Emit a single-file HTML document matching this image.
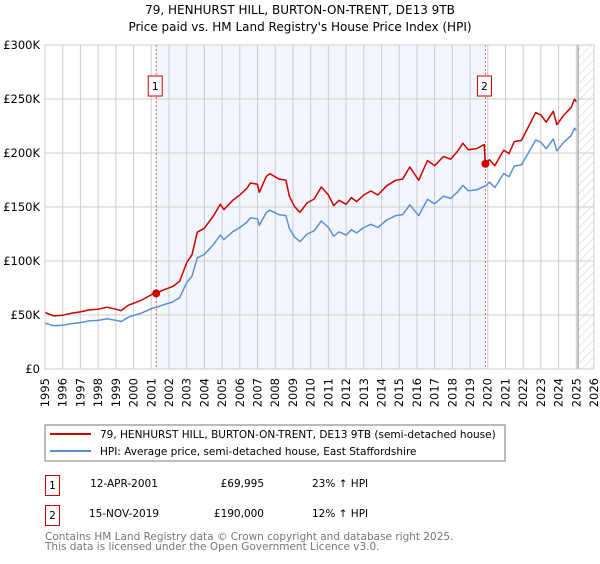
<!DOCTYPE html>
<html><head><meta charset="utf-8"><style>
body{margin:0;background:#fff;font-family:"DejaVu Sans","Liberation Sans",sans-serif;}
svg text{font-family:"DejaVu Sans","Liberation Sans",sans-serif;}
</style></head><body>
<svg id="c" width="600" height="560" xmlns="http://www.w3.org/2000/svg">
<defs><pattern id="hatch" width="6" height="6" patternUnits="userSpaceOnUse" patternTransform="rotate(45)"><line x1="0" y1="0" x2="0" y2="6" stroke="#ccc" stroke-width="1"/></pattern></defs>
<text x="300" y="14" text-anchor="middle" font-size="12">79, HENHURST HILL, BURTON-ON-TRENT, DE13 9TB</text>
<text x="300" y="31" text-anchor="middle" font-size="12">Price paid vs. HM Land Registry's House Price Index (HPI)</text>
<g id="plot"></g>
<rect x="45" y="425" width="460" height="36" fill="#fff" stroke="#777"/>
<line x1="50" y1="434" x2="91" y2="434" stroke="#cc0000" stroke-width="2"/>
<text x="100" y="438" font-size="10.5">79, HENHURST HILL, BURTON-ON-TRENT, DE13 9TB (semi-detached house)</text>
<line x1="50" y1="451" x2="91" y2="451" stroke="#5b8fd4" stroke-width="2"/>
<text x="100" y="455" font-size="10.5">HPI: Average price, semi-detached house, East Staffordshire</text>
<rect x="45.5" y="475.5" width="14" height="20" fill="none" stroke="#cc0000"/>
<text x="52.5" y="489" text-anchor="middle" font-size="10.5">1</text>
<text x="124" y="487" text-anchor="middle" font-size="10.5">12-APR-2001</text>
<text x="264" y="487" text-anchor="end" font-size="10.5">£69,995</text>
<text x="312" y="487" font-size="10.5">23% ↑ HPI</text>
<rect x="45.5" y="505.5" width="14" height="20" fill="none" stroke="#cc0000"/>
<text x="52.5" y="519" text-anchor="middle" font-size="10.5">2</text>
<text x="124" y="517" text-anchor="middle" font-size="10.5">15-NOV-2019</text>
<text x="264" y="517" text-anchor="end" font-size="10.5">£190,000</text>
<text x="312" y="517" font-size="10.5">12% ↑ HPI</text>
<text x="45" y="540" font-size="10.5" fill="#777">Contains HM Land Registry data © Crown copyright and database right 2025.</text>
<text x="45" y="550" font-size="10.5" fill="#777">This data is licensed under the Open Government Licence v3.0.</text>
</svg>
<script>
const hpiYears=[1995,1995.5,1996,1996.5,1997,1997.5,1998,1998.5,1999,1999.3,1999.7,2000.4,2001.1,2001.3,2001.6,2002.2,2002.6,2003,2003.3,2003.6,2004,2004.5,2004.9,2005.1,2005.6,2006,2006.4,2006.6,2007,2007.1,2007.5,2007.7,2008.2,2008.6,2008.8,2009.1,2009.4,2009.8,2010.2,2010.6,2011,2011.3,2011.6,2012,2012.3,2012.6,2013,2013.4,2013.8,2014.3,2014.8,2015.2,2015.6,2016.1,2016.6,2017,2017.5,2017.9,2018.3,2018.6,2018.9,2019.4,2019.9,2020.1,2020.4,2020.9,2021.2,2021.5,2021.9,2022.4,2022.7,2023,2023.3,2023.7,2023.9,2024.3,2024.7,2024.9,2025];
const hpiValues=[42.5,40,40.5,42,43,44.5,45,46.5,45,44,48,51.5,56.5,57,59,62,66,80,86,103,106,115,124,120,127,131,136,140,139,133,145,147,143,142,130,122,118,125,128,137,131,123,127,124,129,126,131,134,131,138,142,143,152,142,157,153,160,158,164,170,165,166,170,173,168,181,178,188,189,203,212,210,204,213,202,210,216,223,221];
const priceYears=[1995,1995.5,1996,1996.5,1997,1997.5,1998,1998.5,1999,1999.3,1999.7,2000.4,2001.1,2001.28,2001.6,2002.2,2002.6,2003,2003.3,2003.6,2004,2004.5,2004.9,2005.1,2005.6,2006,2006.4,2006.6,2007,2007.1,2007.5,2007.7,2008.2,2008.6,2008.8,2009.1,2009.4,2009.8,2010.2,2010.6,2011,2011.3,2011.6,2012,2012.3,2012.6,2013,2013.4,2013.8,2014.3,2014.8,2015.2,2015.6,2016.1,2016.6,2017,2017.5,2017.9,2018.3,2018.6,2018.9,2019.4,2019.8,2019.87,2020.1,2020.4,2020.9,2021.2,2021.5,2021.9,2022.4,2022.7,2023,2023.3,2023.7,2023.9,2024.3,2024.7,2024.9,2025];
const priceValues=[52.3,49.2,49.8,51.7,52.9,54.7,55.4,57.2,55.4,54.1,59,63.3,69.5,70,72.6,76.3,81.2,98.4,105.8,126.7,130.4,141.5,152.5,147.6,156.2,161.1,167.3,172.2,171,163.6,178.4,180.8,175.9,174.7,159.9,150.1,145.1,153.8,157.4,168.5,161.1,151.3,156.2,152.5,158.7,155,161.1,164.8,161.1,169.7,174.7,175.9,187,174.7,193.1,188.2,196.8,194.3,201.7,209.1,203,204.2,207.9,190,193.8,188.2,202.7,199.4,210.6,211.7,227.4,237.4,235.2,228.5,238.6,226.2,235.2,241.9,249.8,247.5];
const saleYears=[2001.28,2019.87];
const saleValues=[69.995,190];
const saleLabels=["1","2"];
const yTicks=[0,50,100,150,200,250,300];
const yTickLabels=["£0","£50K","£100K","£150K","£200K","£250K","£300K"];
const xTicks=[];for(let y=1995;y<=2026;y++)xTicks.push(y);
const X0=45,X1=594,Y0=369,Y1=45;
const xs=y=>X0+(y-1995)/(2026-1995)*(X1-X0);
const ys=v=>Y0-v/300*(Y0-Y1);
const NS="http://www.w3.org/2000/svg";
const g=document.getElementById('plot');
function mk(t,a){const e=document.createElementNS(NS,t);for(const k in a)e.setAttribute(k,a[k]);g.appendChild(e);return e;}
let e=mk('rect',{x:xs(saleYears[0]),y:Y1,width:xs(saleYears[1])-xs(saleYears[0]),height:Y0-Y1,fill:'#eef3fc',opacity:0.7});


e=mk('rect',{x:xs(2025.1),y:Y1,width:X1-xs(2025.1),height:Y0-Y1,fill:'url(#hatch)'});


xTicks.forEach(t=>{const l=mk('line',{x1:xs(t),x2:xs(t),y1:Y1,y2:Y0,stroke:'#ccc','stroke-width':1});


const tx=mk('text',{x:0,y:0,'text-anchor':'end','font-size':11.5,transform:'translate('+(xs(t)+4).toFixed(1)+','+(Y0+9)+') rotate(-90)'});tx.textContent=t;

});
yTicks.forEach((t,i)=>{const l=mk('line',{x1:X0,x2:X1,y1:ys(t),y2:ys(t),stroke:'#ccc','stroke-width':1});


const tx=mk('text',{x:X0-5,y:ys(t)+4,'text-anchor':'end','font-size':11.5});tx.textContent=yTickLabels[i];

});
e=mk('line',{x1:xs(2025.1),x2:xs(2025.1),y1:Y1,y2:Y0,stroke:'#999','stroke-width':1.2});


saleYears.forEach((s,i)=>{const l=mk('line',{x1:xs(s),x2:xs(s),y1:Y1,y2:Y0,stroke:'#e06060','stroke-width':1,'stroke-dasharray':'2,2'});


const r=mk('rect',{x:xs(s)-8,y:76,width:14,height:20,fill:'#fff',stroke:'#cc0000'});


const t=mk('text',{x:xs(s)-1,y:90,'text-anchor':'middle','font-size':10.5});t.textContent=saleLabels[i];

});
const line=(yr,vals,col)=>mk('path',{d:yr.map((y,i)=>(i?'L':'M')+xs(y).toFixed(1)+','+ys(vals[i]).toFixed(1)).join(''),fill:'none',stroke:col,'stroke-width':1.5,'stroke-linejoin':'round'});
e=line(hpiYears,hpiValues,'#5b8fd4');


e=line(priceYears,priceValues,'#cc0000');


saleYears.forEach((s,i)=>{const c=mk('circle',{cx:xs(s),cy:ys(saleValues[i]),r:4,fill:'#cc0000'});

});
e=mk('rect',{x:X0,y:Y1,width:X1-X0,height:Y0-Y1,fill:'none',stroke:'#ccc'});


</script>
</body></html>
